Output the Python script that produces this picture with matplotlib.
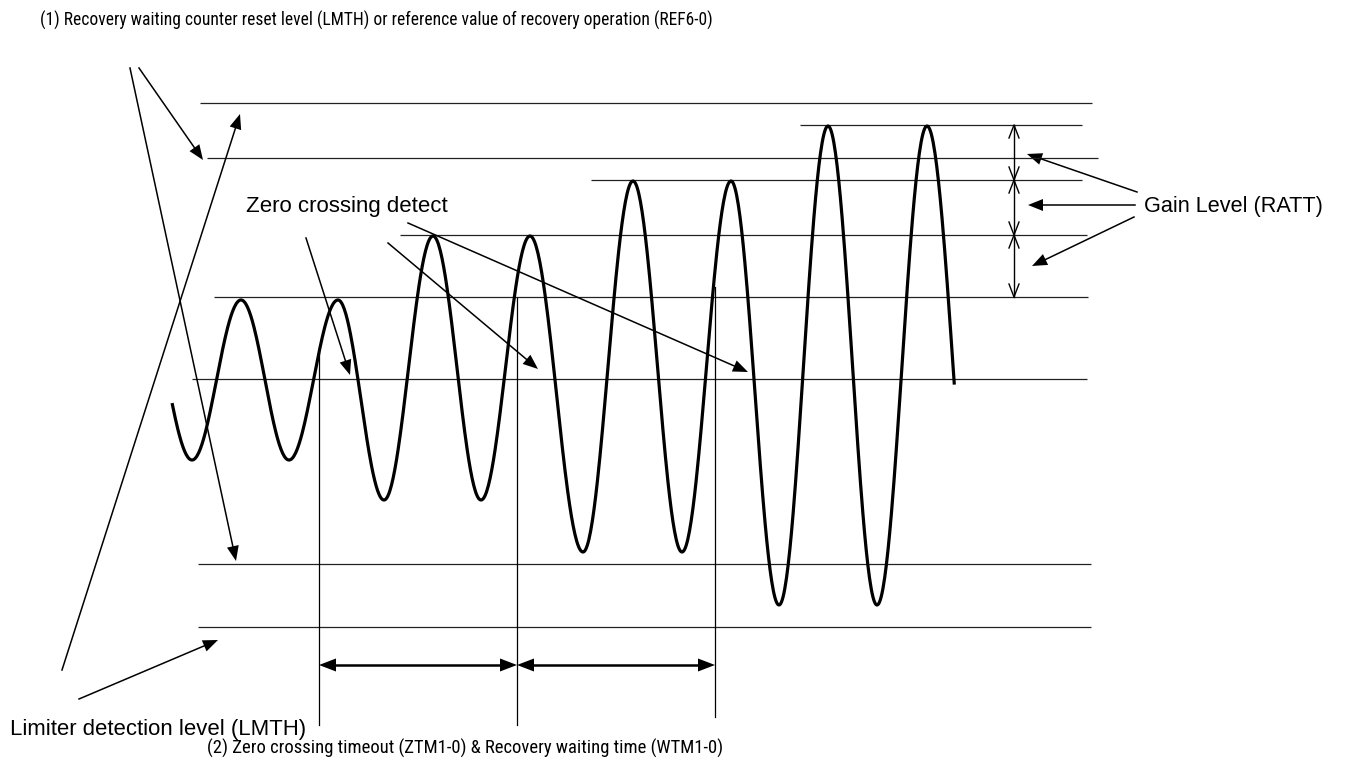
import numpy as np
import matplotlib
matplotlib.use("Agg")
import matplotlib.pyplot as plt
from matplotlib.patches import Polygon
from matplotlib import font_manager

plt.rcParams['font.family'] = ['Liberation Sans', 'DejaVu Sans']

W, H = 1345, 765

# ---- data (pixel-space diagram coordinates) ----
# horizontal reference levels: (y, x_start, x_end)
level_y = [103, 158, 125, 180, 235, 297, 379, 564, 627]
level_x0 = [200, 207, 800, 591, 400, 214, 192, 198, 198]
level_x1 = [1092, 1098, 1082, 1082, 1087, 1088, 1087, 1091, 1091]

# waveform extrema (x, y); first and last are virtual, curve clipped to wave_x_range
wave_ext_x = [143, 192, 241, 289, 338, 384, 433, 481, 530, 583, 633, 682, 731, 779, 828, 877, 927, 979]
wave_ext_y = [300, 460, 300, 460, 300, 500, 236, 500, 236, 552, 181, 552, 181, 605, 126, 605, 126, 605]
wave_x_range = [172, 955]

# vertical markers: x, top, bottom
vline_x = [319, 517, 715]
vline_top = [352, 298, 287]
vline_bot = [725, 725, 717]

# horizontal double-arrow intervals
span_y = 665
span_x = [(319, 517), (517, 715)]

# right-hand gain dimension
dim_x = 1014
dim_levels = [125, 180, 235, 297]

# annotation arrows: (x0, y0, x1, y1)
arrows = [
    (139, 68, 203, 160),     # (1) -> upper reset level
    (130, 68, 236, 561),     # (1) -> lower reset level
    (62, 670, 240, 114),     # limiter -> top
    (79, 699, 218, 640),     # limiter -> bottom
    (306, 238, 350, 375),    # zero crossing detect
    (388, 243, 538, 369),
    (408, 223, 748, 372),
    (1137, 192, 1027, 154),  # gain level
    (1135, 205, 1028, 205),
    (1134, 217, 1032, 266),
]

text_str = [
    "(1) Recovery waiting counter reset level (LMTH) or reference value of recovery operation (REF6-0)",
    "Zero crossing detect",
    "Gain Level (RATT)",
    "Limiter detection level (LMTH)",
    "(2) Zero crossing timeout (ZTM1-0) & Recovery waiting time (WTM1-0)",
]
text_x = [40, 246, 1144, 10, 207]
text_y = [20, 206, 206, 730, 748]
text_w = [672, 202, 179, 296, 515]   # target widths in px
text_narrow = [True, False, False, False, True]

# ---- drawing ----
fig = plt.figure(figsize=(W / 100, H / 100), dpi=100)
ax = fig.add_axes([0, 0, 1, 1])
ax.set_xlim(0, W)
ax.set_ylim(H, 0)
ax.axis('off')

for y, x0, x1 in zip(level_y, level_x0, level_x1):
    ax.plot([x0, x1], [y, y], color='#222222', lw=0.9, solid_capstyle='butt')

# waveform with half-cosine shape between extrema
xs, ys = [], []
for i in range(len(wave_ext_x) - 1):
    xa, xb = wave_ext_x[i], wave_ext_x[i + 1]
    ya, yb = wave_ext_y[i], wave_ext_y[i + 1]
    t = np.linspace(0, 1, 60)
    xs.append(xa + (xb - xa) * t)
    ys.append(ya + (yb - ya) * (1 - np.cos(np.pi * t)) / 2)
xs = np.concatenate(xs)
ys = np.concatenate(ys)
m = (xs >= wave_x_range[0]) & (xs <= wave_x_range[1])
ax.plot(xs[m], ys[m], color='black', lw=2.3, solid_capstyle='butt')

for x, t, b in zip(vline_x, vline_top, vline_bot):
    ax.plot([x, x], [t, b], color='black', lw=0.9)


def head(x0, y0, x1, y1, L=15, hw=6, open_=False, lw=1.0):
    d = np.array([x1 - x0, y1 - y0], float)
    d /= np.hypot(*d)
    n = np.array([-d[1], d[0]])
    tip = np.array([x1, y1], float)
    base = tip - d * L
    p1 = base + n * hw
    p2 = base - n * hw
    if open_:
        ax.plot([p1[0], tip[0], p2[0]], [p1[1], tip[1], p2[1]], color='black', lw=lw)
    else:
        ax.add_patch(Polygon([tip, p1, p2], closed=True, color='black', lw=0))
    return base


for x0, y0, x1, y1 in arrows:
    base = head(x0, y0, x1, y1)
    ax.plot([x0, base[0]], [y0, base[1]], color='black', lw=1.1)

for xa, xb in span_x:
    ax.plot([xa + 12, xb - 12], [span_y, span_y], color='black', lw=1.8)
    head(xb, span_y, xa, span_y, L=17, hw=6.5)
    head(xa, span_y, xb, span_y, L=17, hw=6.5)

ax.plot([dim_x, dim_x], [dim_levels[0], dim_levels[-1]], color='black', lw=1.0)
for ya, yb in zip(dim_levels[:-1], dim_levels[1:]):
    head(dim_x, yb, dim_x, ya, L=13, hw=5, open_=True)
    head(dim_x, ya, dim_x, yb, L=13, hw=5, open_=True)

names = {f.name for f in font_manager.fontManager.ttflist}
narrow_fam = 'Liberation Sans'
for cand in ['Roboto Condensed', 'Archivo Narrow', 'PT Sans Narrow']:
    if cand in names:
        narrow_fam = cand
        break

renderer = fig.canvas.get_renderer()
for s, x, y, w, nar in zip(text_str, text_x, text_y, text_w, text_narrow):
    fam = [narrow_fam, 'DejaVu Sans'] if nar else ['Liberation Sans', 'DejaVu Sans']
    t = ax.text(x, y, s, fontsize=12, ha='left', va='center', color='black', family=fam)
    bb = t.get_window_extent(renderer)
    t.set_fontsize(12 * w / bb.width)

fig.savefig('out.png', dpi=100)
